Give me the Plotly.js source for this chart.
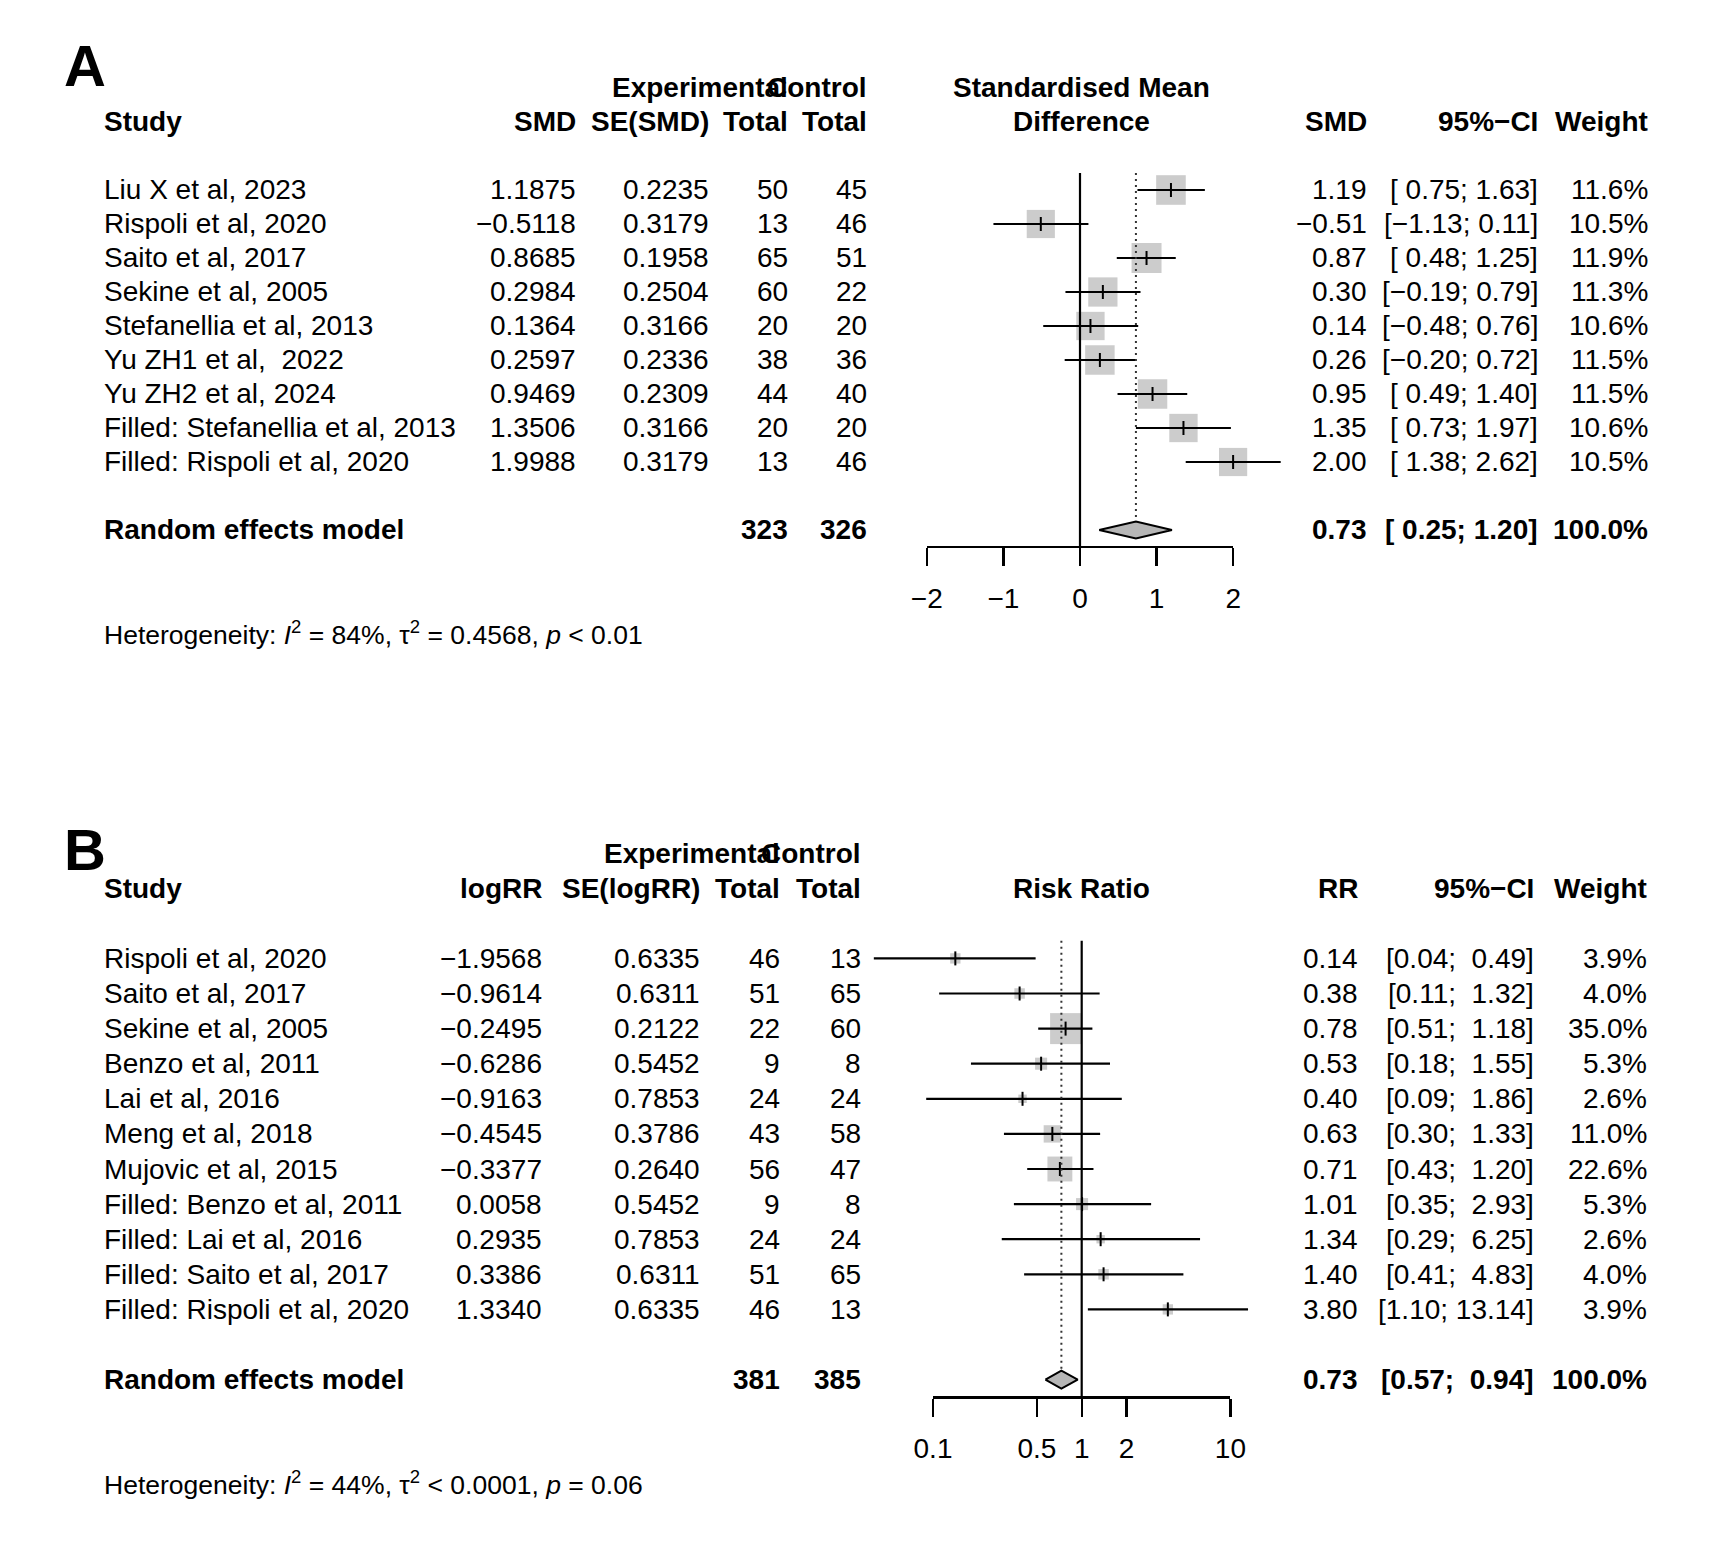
<!DOCTYPE html>
<html>
<head>
<meta charset="utf-8">
<script src="https://cdn.plot.ly/plotly-3.0.1.min.js"></script>
<style>html,body{margin:0;padding:0;background:#fff;}</style>
</head>
<body>
<div id="chart" style="width:1730px;height:1554px;"></div>
<script>
// ---------------- Panel A data ----------------
const studiesA = ["Liu X et al, 2023","Rispoli et al, 2020","Saito et al, 2017","Sekine et al, 2005","Stefanellia et al, 2013","Yu ZH1 et al,\u00A0\u00A02022","Yu ZH2 et al, 2024","Filled: Stefanellia et al, 2013","Filled: Rispoli et al, 2020"];
const smdA = [1.1875,-0.5118,0.8685,0.2984,0.1364,0.2597,0.9469,1.3506,1.9988];
const seA = [0.2235,0.3179,0.1958,0.2504,0.3166,0.2336,0.2309,0.3166,0.3179];
const nExpA = [50,13,65,60,20,38,44,20,13];
const nCtrlA = [45,46,51,22,20,36,40,20,46];
const loA = [0.75,-1.13,0.48,-0.19,-0.48,-0.20,0.49,0.73,1.38];
const hiA = [1.63,0.11,1.25,0.79,0.76,0.72,1.40,1.97,2.62];
const weightA = [11.6,10.5,11.9,11.3,10.6,11.5,11.5,10.6,10.5];
const reA = {est:0.73, lo:0.25, hi:1.20, nExp:323, nCtrl:326, weight:100.0};
const hetA = "Heterogeneity: <i>I</i><sup>2</sup> = 84%, τ<sup>2</sup> = 0.4568, <i>p</i> &lt; 0.01";
const ticksA = [-2,-1,0,1,2];
const tickTextA = ["−2","−1","0","1","2"];

// ---------------- Panel B data ----------------
const studiesB = ["Rispoli et al, 2020","Saito et al, 2017","Sekine et al, 2005","Benzo et al, 2011","Lai et al, 2016","Meng et al, 2018","Mujovic et al, 2015","Filled: Benzo et al, 2011","Filled: Lai et al, 2016","Filled: Saito et al, 2017","Filled: Rispoli et al, 2020"];
const logRR = [-1.9568,-0.9614,-0.2495,-0.6286,-0.9163,-0.4545,-0.3377,0.0058,0.2935,0.3386,1.3340];
const seB = [0.6335,0.6311,0.2122,0.5452,0.7853,0.3786,0.2640,0.5452,0.7853,0.6311,0.6335];
const nExpB = [46,51,22,9,24,43,56,9,24,51,46];
const nCtrlB = [13,65,60,8,24,58,47,8,24,65,13];
const loB = [0.04,0.11,0.51,0.18,0.09,0.30,0.43,0.35,0.29,0.41,1.10];
const hiB = [0.49,1.32,1.18,1.55,1.86,1.33,1.20,2.93,6.25,4.83,13.14];
const weightB = [3.9,4.0,35.0,5.3,2.6,11.0,22.6,5.3,2.6,4.0,3.9];
const reB = {est:0.73, lo:0.57, hi:0.94, nExp:381, nCtrl:385, weight:100.0};
const hetB = "Heterogeneity: <i>I</i><sup>2</sup> = 44%, τ<sup>2</sup> &lt; 0.0001, <i>p</i> = 0.06";
const ticksB = [0.1,0.5,1,2,10];
const tickTextB = ["0.1","0.5","1","2","10"];

// ---------------- layout geometry (pixels) ----------------
const W = 1730, H = 1554;
const FONT = "Liberation Sans, Arial, Helvetica, sans-serif";
const FS = 28, FSH = 26.5;
const px = v => v / W;
const py = v => 1 - v / H;

// Panel A: x pixel of SMD 0 and pixels per unit; row pitch
const A0 = 1080, AU = 76.6, AY1 = 190, AR = 34;
const idxA = v => (v - AY1) / AR + 1;
// Panel B: x pixel of RR 1 and pixels per decade
const B1 = 1081.7, BU = 148.7, BY1 = 958.4, BR = 35.1;
const idxB = v => (v - BY1) / BR + 1;

const colA = {study:102, c1:577.5, c2:711, c3:789.5, c4:869, mid:1081, e:1368.5, ci:1539.5, w:1650};
const colB = {study:102, c1:543.5, c2:702, c3:781.7, c4:863, mid:1081.4, e:1360, ci:1536, w:1649};

const minus = s => s.replace(/-/g, "−");
const f = (v, d) => minus(v.toFixed(d));
function padCol(vals) {
  const s = vals.map(v => f(v, 2));
  const m = Math.max(...s.map(x => x.length));
  return s.map(x => "\u00A0".repeat(m - x.length) + x);
}
function ciStrings(lo, hi) {
  const L = padCol(lo), U = padCol(hi);
  return L.map((l, i) => "[" + l + "; " + U[i] + "]");
}

const ann = [];
function T(text, x, yref, y, xanchor, bold, size) {
  ann.push({
    text: bold ? "<b>" + text + "</b>" : text,
    x: px(x), xref: "paper", y: y, yref: yref,
    xanchor: xanchor, yanchor: "middle", showarrow: false,
    font: {family: FONT, size: size || FS, color: "#000"}
  });
}

const traces = [];
const GRAY = "#B6B6B6";

function panel(cfg) {
  const n = cfg.studies.length;
  const rows = cfg.studies.map((_, i) => i + 1);
  const reRow = n + 2;
  const c = cfg.col;
  const yr = cfg.yref;
  // header
  T("Experimental", c.c3, yr, -2, "right", true);
  T("Control", c.c4, yr, -2, "right", true);
  T("Study", c.study, yr, -1, "left", true);
  T(cfg.h1, c.c1, yr, -1, "right", true);
  T(cfg.h2, c.c2, yr, -1, "right", true);
  T("Total", c.c3, yr, -1, "right", true);
  T("Total", c.c4, yr, -1, "right", true);
  if (cfg.title1) T(cfg.title1, c.mid, yr, -2, "center", true);
  T(cfg.title2, c.mid, yr, -1, "center", true);
  T(cfg.h3, c.e, yr, -1, "right", true);
  T("95%−CI", c.ci, yr, -1, "right", true);
  T("Weight", c.w, yr, -1, "right", true);
  // panel letter
  T(cfg.letter, 62, yr, cfg.letterRow, "left", true, 58);
  const ci = ciStrings(cfg.lo.concat([cfg.re.lo]), cfg.hi.concat([cfg.re.hi]));
  for (let i = 0; i < n; i++) {
    const r = rows[i];
    T(cfg.studies[i], c.study, yr, r, "left", false);
    T(f(cfg.v1[i], 4), c.c1, yr, r, "right", false);
    T(f(cfg.v2[i], 4), c.c2, yr, r, "right", false);
    T(String(cfg.nExp[i]), c.c3, yr, r, "right", false);
    T(String(cfg.nCtrl[i]), c.c4, yr, r, "right", false);
    T(f(cfg.est[i], 2), c.e, yr, r, "right", false);
    T(ci[i], c.ci, yr, r, "right", false);
    T(cfg.weight[i].toFixed(1) + "%", c.w, yr, r, "right", false);
  }
  T("Random effects model", c.study, yr, reRow, "left", true);
  T(String(cfg.re.nExp), c.c3, yr, reRow, "right", true);
  T(String(cfg.re.nCtrl), c.c4, yr, reRow, "right", true);
  T(f(cfg.re.est, 2), c.e, yr, reRow, "right", true);
  T(ci[n], c.ci, yr, reRow, "right", true);
  T(cfg.re.weight.toFixed(1) + "%", c.w, yr, reRow, "right", true);
  T(cfg.het, c.study, yr, cfg.hetRow, "left", false, FSH);

  const xa = cfg.xa, ya = cfg.ya;
  const maxW = Math.max(...cfg.weight);
  // squares
  traces.push({type:"scatter", mode:"markers", x:cfg.est, y:rows, xaxis:xa, yaxis:ya,
    marker:{symbol:"square", color:GRAY, size:cfg.weight.map(w => cfg.sqMax * Math.sqrt(w / maxW)), line:{width:0}},
    hoverinfo:"skip"});
  // CI lines
  const cx = [], cy = [];
  for (let i = 0; i < n; i++) { cx.push(cfg.lo[i], cfg.hi[i], null); cy.push(rows[i], rows[i], null); }
  traces.push({type:"scatter", mode:"lines", x:cx, y:cy, xaxis:xa, yaxis:ya,
    line:{color:"#000", width:2.2}, hoverinfo:"skip"});
  // estimate ticks
  traces.push({type:"scatter", mode:"markers", x:cfg.est, y:rows, xaxis:xa, yaxis:ya,
    marker:{symbol:"line-ns-open", color:"#000", size:10, line:{width:2, color:"#000"}}, hoverinfo:"skip"});
  // line of no effect
  traces.push({type:"scatter", mode:"lines", x:[cfg.nullVal, cfg.nullVal], y:[0.5, reRow + 0.5], xaxis:xa, yaxis:ya,
    line:{color:"#000", width:2.2}, hoverinfo:"skip"});
  // pooled effect dotted line
  traces.push({type:"scatter", mode:"lines", x:[cfg.re.est, cfg.re.est], y:[0.5, reRow - cfg.dh], xaxis:xa, yaxis:ya,
    line:{color:"#333", width:2, dash:"2px,4px"}, hoverinfo:"skip"});
  // diamond
  traces.push({type:"scatter", mode:"lines", fill:"toself", fillcolor:GRAY,
    x:[cfg.re.lo, cfg.re.est, cfg.re.hi, cfg.re.est, cfg.re.lo],
    y:[reRow, reRow - cfg.dh, reRow, reRow + cfg.dh, reRow], xaxis:xa, yaxis:ya,
    line:{color:"#000", width:2}, hoverinfo:"skip"});
  // helper trace for the tick axis
  traces.push({type:"scatter", mode:"markers", x:[cfg.nullVal], y:[1], xaxis:cfg.xt, yaxis:ya,
    marker:{opacity:0}, hoverinfo:"skip"});
}

panel({
  letter:"A", letterRow:idxA(66), studies:studiesA, v1:smdA, v2:seA, nExp:nExpA, nCtrl:nCtrlA,
  est:smdA, lo:loA, hi:hiA, weight:weightA, re:reA, het:hetA, hetRow:idxA(633),
  h1:"SMD", h2:"SE(SMD)", h3:"SMD", title1:"Standardised Mean", title2:"Difference",
  col:colA, yref:"y", xa:"x", ya:"y", xt:"x3", nullVal:0, sqMax:30, dh:8.5 / AR
});
panel({
  letter:"B", letterRow:idxB(849), studies:studiesB, v1:logRR, v2:seB, nExp:nExpB, nCtrl:nCtrlB,
  est:logRR.map(v => Math.exp(v)), lo:loB, hi:hiB, weight:weightB, re:reB, het:hetB, hetRow:idxB(1482.5),
  h1:"logRR", h2:"SE(logRR)", h3:"RR", title1:null, title2:"Risk Ratio",
  col:colB, yref:"y2", xa:"x2", ya:"y2", xt:"x4", nullVal:1, sqMax:31, dh:9 / BR
});

const tickAxis = {
  showline:true, linecolor:"#000", linewidth:2.2, ticks:"outside", ticklen:18, tickwidth:2.2, tickcolor:"#000",
  showgrid:false, zeroline:false, tickfont:{family:FONT, size:FS, color:"#000"}, ticklabelstandoff:8,
  fixedrange:true, anchor:"free"
};

const layout = {
  width:W, height:H, margin:{l:0, r:0, t:0, b:0}, paper_bgcolor:"#fff", plot_bgcolor:"rgba(0,0,0,0)",
  showlegend:false, hovermode:false,
  xaxis:{domain:[px(840), px(1330)], range:[(840 - A0) / AU, (1330 - A0) / AU], visible:false, fixedrange:true},
  yaxis:{domain:[py(690), py(10)], range:[idxA(690), idxA(10)], visible:false, fixedrange:true},
  xaxis2:{type:"log", domain:[px(850), px(1290)], range:[(850 - B1) / BU, (1290 - B1) / BU], visible:false, fixedrange:true},
  yaxis2:{domain:[py(1540), py(730)], range:[idxB(1540), idxB(730)], visible:false, fixedrange:true},
  xaxis3:Object.assign({}, tickAxis, {domain:[px(A0 - 2 * AU), px(A0 + 2 * AU)], range:[-2, 2],
    tickvals:ticksA, ticktext:tickTextA, position:py(547)}),
  xaxis4:Object.assign({}, tickAxis, {type:"log", domain:[px(B1 - BU), px(B1 + BU)], range:[-1, 1],
    tickvals:ticksB, ticktext:tickTextB, position:py(1397.4)}),
  annotations:ann
};

Plotly.newPlot("chart", traces, layout, {staticPlot:true, displayModeBar:false});
</script>
</body>
</html>
